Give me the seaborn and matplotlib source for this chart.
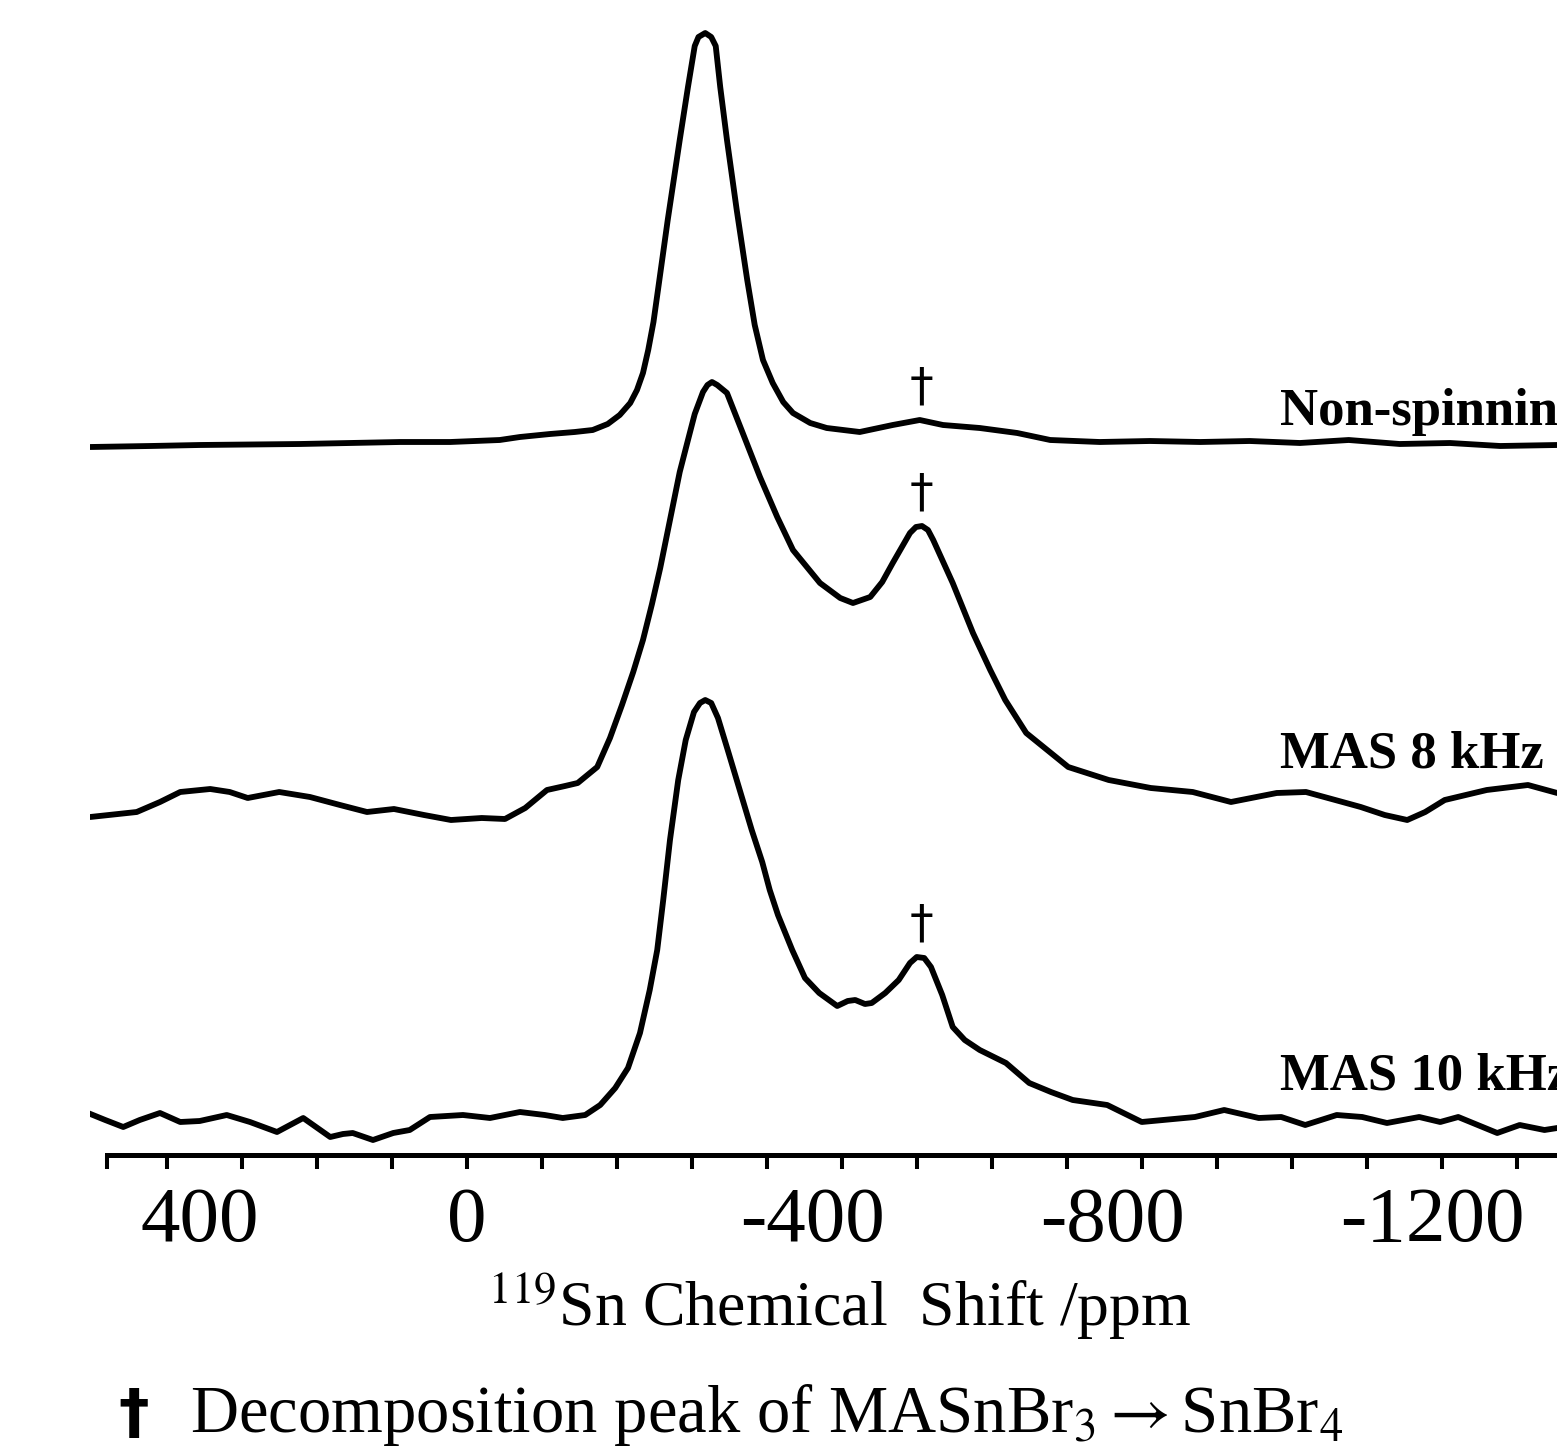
import numpy as np
import pandas as pd
import matplotlib
matplotlib.use("Agg")
import matplotlib.pyplot as plt
import seaborn as sns
from matplotlib.transforms import ScaledTranslation

# ---------------- data ----------------
# 119Sn chemical shift (ppm) and intensity above each trace's own baseline (a.u.)
shift_nonspin = [503, 423, 357, 223, 90, 23, -43, -70, -110, -143, -167, -187, -203, -217,
                 -226, -234, -241, -248, -254, -267, -283, -294, -303, -308, -317, -325,
                 -331, -337, -346, -359, -373, -383, -394, -407, -421, -434, -457, -479,
                 -523, -567, -603, -634, -683, -733, -777, -843, -910, -977, -1043, -1110,
                 -1175, -1243, -1310, -1377, -1453]
int_nonspin = [-2, -1, 0, 1, 3, 3, 5, 8, 11, 13, 15, 21, 30, 42,
               55, 72, 95, 123, 155, 225, 305, 358, 399, 408, 412, 408,
               399, 358, 305, 235, 165, 120, 85, 62, 43, 32, 22, 17,
               13, 20, 25, 20, 17, 12, 5, 3, 4, 3, 4, 2,
               5, 1, 2, -1, 0]

shift_mas8 = [503, 441, 410, 383, 343, 317, 293, 251, 210, 170, 134, 98, 58, 22, -19, -50,
              -77, -106, -130, -147, -173, -190, -206, -221, -234, -246, -257, -270, -283,
              -294, -303, -314, -320, -326, -333, -346, -367, -390, -413, -434, -470, -497,
              -514, -537, -553, -567, -590, -598, -606, -614, -621, -647, -674, -697, -717,
              -745, -773, -801, -855, -911, -967, -1018, -1079, -1118, -1157, -1191, -1223,
              -1253, -1277, -1303, -1359, -1414, -1453]
int_mas8 = [-7, -2, 8, 18, 21, 18, 12, 18, 13, 5, -2, 1, -5, -10, -8, -9,
            2, 20, 24, 27, 43, 72, 105, 138, 170, 206, 242, 290, 338,
            370, 396, 418, 425, 428, 425, 417, 377, 333, 293, 260, 227, 212,
            207, 213, 228, 247, 277, 283, 284, 280, 270, 227, 177, 140, 110,
            77, 60, 43, 30, 22, 18, 8, 17, 18, 10, 3, -5,
            -10, -2, 10, 20, 25, 17]

shift_mas10 = [506, 483, 459, 437, 410, 383, 357, 321, 290, 254, 219, 183, 166, 153, 126, 99,
               77, 50, 6, -30, -70, -103, -127, -157, -177, -197, -214, -230, -243, -253,
               -261, -270, -281, -291, -302, -310, -317, -325, -334, -347, -363, -379, -393,
               -403, -414, -433, -450, -469, -493, -507, -517, -530, -539, -557, -575, -590,
               -599, -609, -618, -633, -647, -663, -683, -718, -749, -778, -807, -853, -899,
               -970, -1009, -1055, -1085, -1117, -1159, -1193, -1226, -1269, -1297, -1321,
               -1373, -1403, -1436, -1453]
int_mas10 = [9, 2, -5, 2, 9, 0, 1, 7, 0, -10, 4, -15, -12, -11, -18, -11,
             -8, 5, 7, 4, 10, 7, 4, 7, 17, 34, 54, 89, 132, 172,
             222, 282, 342, 382, 410, 419, 422, 419, 404, 372, 332, 292, 260,
             232, 207, 172, 144, 129, 116, 121, 122, 118, 119, 129, 142, 159,
             165, 164, 155, 127, 95, 82, 72, 59, 39, 30, 22, 17, 0,
             5, 12, 4, 5, -3, 7, 5, -1, 5, 0, 5,
             -11, -3, -8, -6]

trace_names = ["Non-spinning", "MAS 8 kHz", "MAS 10 kHz"]
major_ticks = [400, 0, -400, -800, -1200]
major_labels = ["400", "0", "-400", "-800", "-1200"]
minor_ticks = [480, 300, 200, 100, -100, -200, -300, -500, -600, -700, -900, -1000,
               -1100, -1300, -1400]
dagger_shift = -606
x_label = r"$^{119}$Sn Chemical  Shift /ppm"
footnote = r"Decomposition peak of MASnBr$_3\rightarrow$SnBr$_4$"

# ---------------- layout ----------------
W, H = 1557, 1447
trace_offsets = [710, 345, 33]          # vertical stacking of the traces
label_heights = [730, 387, 65]           # baseline of the trace names
label_x = -1083

sns.set_theme(style="white")
plt.rcParams["font.family"] = ["Liberation Serif", "DejaVu Serif"]
plt.rcParams["mathtext.fontset"] = "stix"

fig = plt.figure(figsize=(W / 100, H / 100), dpi=100)
fig.patch.set_facecolor("white")
ax = fig.add_axes([90 / W, (H - 1155) / H, 1 - 90 / W, 1155 / H])
ax.set_facecolor("white")

traces = [(shift_nonspin, int_nonspin), (shift_mas8, int_mas8), (shift_mas10, int_mas10)]
frames = []
for name, (sx, iy), off in zip(trace_names, traces, trace_offsets):
    frames.append(pd.DataFrame({"shift": sx, "signal": np.asarray(iy, float) + off,
                                "trace": name}))
data = pd.concat(frames, ignore_index=True)

for name in trace_names:
    sub = data[data["trace"] == name]
    sns.lineplot(data=sub, x="shift", y="signal", ax=ax, color="black", linewidth=4.2,
                 sort=False, estimator=None, legend=False, solid_joinstyle="round",
                 solid_capstyle="round")

ax.set_xlim(503.3, -1452.7)
ax.set_ylim(0, 1155)

for s in ["left", "top", "right"]:
    ax.spines[s].set_visible(False)
ax.spines["bottom"].set_linewidth(3.6)
ax.spines["bottom"].set_color("black")
ax.spines["bottom"].set_bounds(480.7, -1453)

ax.set_yticks([])
ax.set_ylabel("")
ax.set_xticks(major_ticks, labels=major_labels)
ax.set_xticks(minor_ticks, minor=True)
ax.tick_params(axis="x", which="both", direction="out", length=10, width=2.9,
               color="black", bottom=True)
ax.tick_params(axis="x", which="major", labelsize=57, pad=13, labelcolor="black")
for lab, txt in zip(ax.get_xticklabels(), major_labels):
    dx = -0.20 if txt == "0" else -0.27
    lab.set_horizontalalignment("left")
    lab.set_transform(lab.get_transform() + ScaledTranslation(dx, 0, fig.dpi_scale_trans))

ax.set_xlabel(x_label, fontsize=46, color="black")
ax.xaxis.set_label_coords(0.511, -0.100)

# trace names
for name, yl in zip(trace_names, label_heights):
    ax.text(label_x, yl, name, fontsize=38, fontweight="bold", ha="left", va="baseline",
            color="black", clip_on=False)

# decomposition daggers above the SnBr4 peak
for (sx, iy), off in zip(traces, trace_offsets):
    xs = np.asarray(sx, float)[::-1]
    ys = (np.asarray(iy, float) + off)[::-1]
    yv = np.interp(dagger_shift, xs, ys)
    ax.annotate("\u2020", xy=(dagger_shift, yv), xytext=(0, 7), textcoords="offset points",
                ha="center", va="bottom", fontsize=34, family="DejaVu Sans", color="black")

# footnote
fig.text(118 / W, (H - 1432) / H, "\u2020", fontsize=44, fontweight="bold",
         family="DejaVu Sans", va="baseline", ha="left", color="black")
fig.text(190 / W, (H - 1432) / H, footnote, fontsize=48, va="baseline", ha="left",
         color="black")

fig.savefig("out.png", dpi=100, facecolor="white")
